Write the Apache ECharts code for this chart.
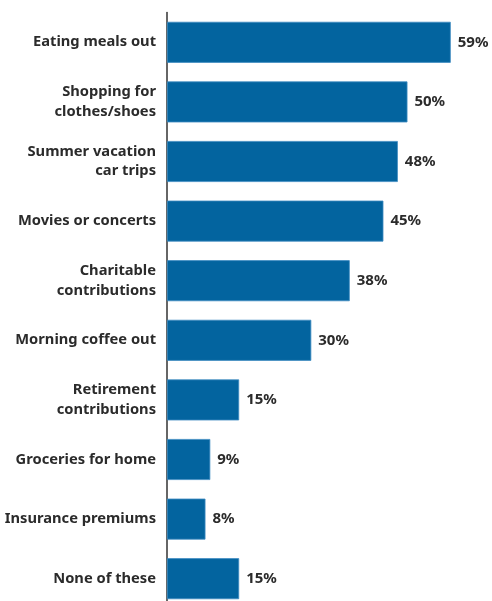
<!DOCTYPE html>
<html>
<head>
<meta charset="utf-8">
<script src="https://cdn.jsdelivr.net/npm/echarts@6/dist/echarts.min.js"></script>
<style>
  html, body { margin: 0; padding: 0; background: #fff; overflow: hidden; }
  #chart { width: 492px; height: 612px; }
</style>
</head>
<body>
<div id="chart"></div>
<script>
// Spending areas, top to bottom
const categories = [
  'Eating meals out',
  'Shopping for\nclothes/shoes',
  'Summer vacation\ncar trips',
  'Movies or concerts',
  'Charitable\ncontributions',
  'Morning coffee out',
  'Retirement\ncontributions',
  'Groceries for home',
  'Insurance premiums',
  'None of these'
];
// Share of respondents, percent
const values = [59, 50, 48, 45, 38, 30, 15, 9, 8, 15];

const chart = echarts.init(document.getElementById('chart'), null, { renderer: 'canvas' });

const textColor = '#2b2b2b';
const fontFamily = '"Noto Sans", "Open Sans", sans-serif';

chart.setOption({
  animation: false,
  backgroundColor: '#ffffff',
  grid: { left: 167, top: 12.5, width: 312.6, height: 596, containLabel: false },
  xAxis: {
    type: 'value',
    min: 0,
    max: 65,
    show: false
  },
  yAxis: {
    type: 'category',
    data: categories,
    inverse: true,
    axisLine: { show: true, lineStyle: { color: '#333333', width: 1.5 } },
    axisTick: { show: false },
    axisLabel: {
      margin: 11,
      color: textColor,
      fontFamily: fontFamily,
      fontWeight: 'bold',
      fontSize: 14.7,
      lineHeight: 19.5,
      align: 'right'
    }
  },
  series: [{
    type: 'bar',
    data: values,
    barWidth: 41,
    itemStyle: { color: '#03649f', borderColor: '#3f8cc2', borderWidth: 0.8 },
    label: {
      show: true,
      position: 'right',
      distance: 7,
      formatter: '{c}%',
      color: textColor,
      fontFamily: fontFamily,
      fontWeight: 'bold',
      fontSize: 15
    }
  }]
});
</script>
</body>
</html>
